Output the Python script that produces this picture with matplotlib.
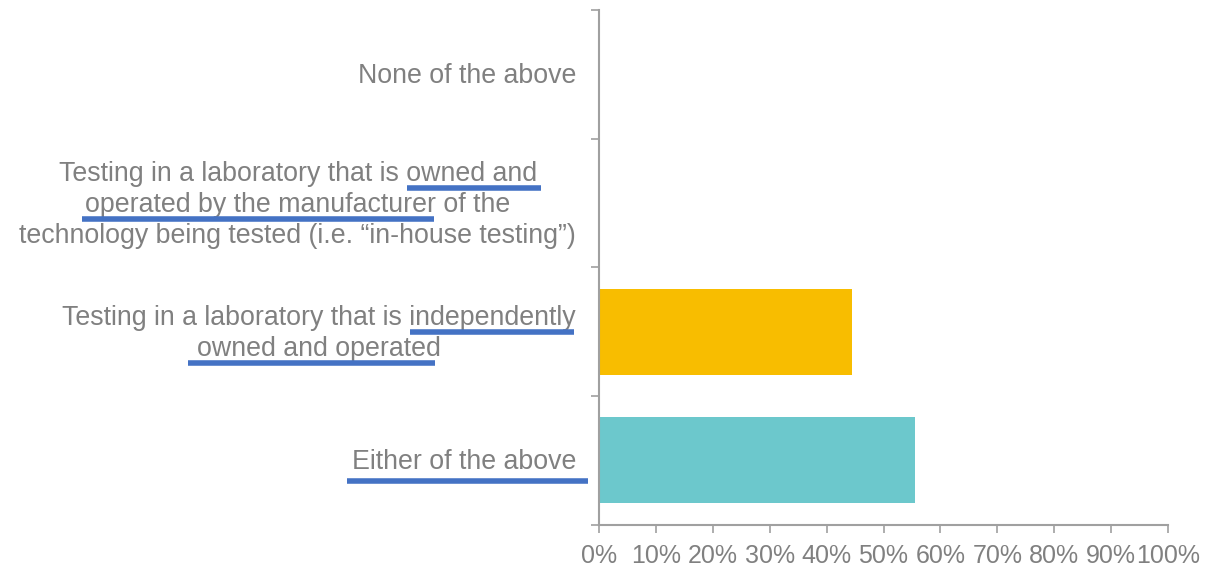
import matplotlib.pyplot as plt
from matplotlib.lines import Line2D
from matplotlib.transforms import ScaledTranslation
from matplotlib.ticker import PercentFormatter, FixedLocator

plt.rcParams['font.family'] = ['Liberation Sans', 'DejaVu Sans']

# survey answers, bottom to top
categories = [
    'Either of the above',
    'Testing in a laboratory that is independently\nowned and operated',
    'Testing in a laboratory that is owned and\noperated by the manufacturer of the\ntechnology being tested (i.e. \u201cin-house testing\u201d)',
    'None of the above',
]
shares = [55.6, 44.4, 0.0, 0.0]
colors = ['#6cc8cc', '#f8bd00', '#a5a5a5', '#5b9bd5']

# highlight strokes under key phrases (figure pixels: x0, x1, y from top)
underlines = [
    (407, 541, 187.5),
    (82, 434, 219),
    (410, 574, 332),
    (188, 435, 363),
    (347, 588, 481),
]

text_gray = '#808080'
axis_gray = '#a0a0a0'

W, H = 1221, 567
fig = plt.figure(figsize=(W / 100, H / 100), dpi=100)
ax = fig.add_axes([599 / W, 1 - 524.7 / H, (1168 - 599) / W, (524.7 - 10) / H])

y = range(len(categories))
ax.barh(y, shares, height=0.67, color=colors)

ax.set_xlim(0, 100)
ax.set_ylim(-0.5, len(categories) - 0.5)
ax.set_xticks(range(0, 101, 10))
ax.xaxis.set_major_formatter(PercentFormatter(decimals=0))

ax.set_yticks(list(y))
ax.set_yticklabels(categories, multialignment='center', linespacing=1.25)
ax.yaxis.set_minor_locator(FixedLocator([i - 0.5 for i in range(len(categories) + 1)]))

ax.tick_params(axis='y', which='major', length=0, pad=16.5, labelsize=19.3, labelcolor=text_gray)
ax.tick_params(axis='y', which='minor', length=6, width=1.2, color=axis_gray)
ax.tick_params(axis='x', length=6, width=1.2, color=axis_gray, pad=8,
               labelsize=18, labelcolor=text_gray)

# nudge the wrapped labels up a little
for lab in ax.get_yticklabels():
    dy = 1.2 if '\n' not in lab.get_text() else 2.7
    lab.set_transform(lab.get_transform() + ScaledTranslation(0, dy / 72, fig.dpi_scale_trans))

for side in ['top', 'right']:
    ax.spines[side].set_visible(False)
for side in ['left', 'bottom']:
    ax.spines[side].set_color(axis_gray)
    ax.spines[side].set_linewidth(1.5)

for x0, x1, yy in underlines:
    fig.add_artist(Line2D([x0 / W, x1 / W], [1 - yy / H, 1 - yy / H],
                          transform=fig.transFigure, color='#4472c4',
                          linewidth=4, solid_capstyle='butt'))

fig.savefig('out.png', dpi=100)
